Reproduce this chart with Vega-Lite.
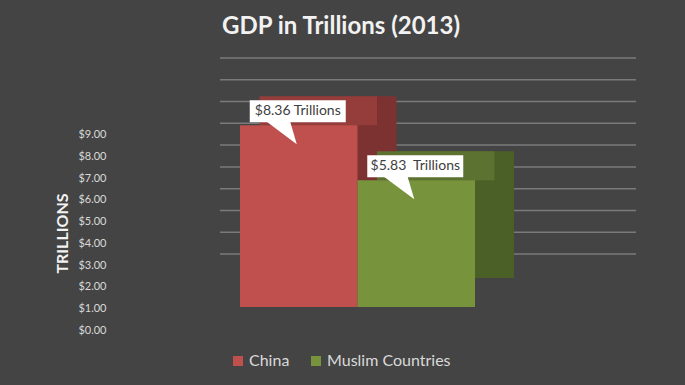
{
  "$schema": "https://vega.github.io/schema/vega-lite/v6.json",
  "width": 416,
  "height": 249,
  "autosize": "none",
  "padding": {"left": 220, "top": 58, "right": 49, "bottom": 78},
  "background": "#444444",
  "title": {
    "text": "GDP in Trillions (2013)",
    "font": "Lato",
    "fontSize": 24,
    "fontWeight": "bold",
    "color": "#f2f2f2",
    "anchor": "middle",
    "dx": -87,
    "offset": 18
  },
  "config": {"view": {"stroke": null}},
  "datasets": {
    "gdp": [
      {"country": "China", "value": 8.36, "label": "$8.36 Trillions"},
      {"country": "Muslim Countries", "value": 5.83, "label": "$5.83\u00a0 Trillions"}
    ],
    "levels": [
      {"level": 0}, {"level": 1}, {"level": 2}, {"level": 3}, {"level": 4},
      {"level": 5}, {"level": 6}, {"level": 7}, {"level": 8}, {"level": 9}
    ]
  },
  "layer": [
    {
      "data": {"name": "levels"},
      "mark": {"type": "rule", "color": "#7a7a7a", "strokeWidth": 1.5},
      "encoding": {
        "y": {
          "field": "level",
          "type": "quantitative",
          "scale": {"domain": [-2.4335, 9], "nice": false, "zero": false},
          "axis": null
        }
      }
    },
    {
      "data": {"name": "gdp"},
      "encoding": {
        "x": {
          "field": "country",
          "type": "nominal",
          "sort": null,
          "scale": {"paddingInner": 0, "paddingOuter": 0.77, "align": 0.1105},
          "axis": null
        },
        "y": {
          "field": "value",
          "type": "quantitative",
          "scale": {"domain": [0, 11.448], "nice": false},
          "axis": {
            "orient": "left",
            "values": [0, 1, 2, 3, 4, 5, 6, 7, 8, 9],
            "format": "$.2f",
            "labelFont": "Lato",
            "labelFontSize": 11,
            "labelColor": "#d9d9d9",
            "labelOffset": 23.5,
            "labelPadding": 0,
            "ticks": false,
            "domain": false,
            "grid": false,
            "offset": 114,
            "title": "TRILLIONS",
            "titleFont": "Lato",
            "titleFontSize": 16,
            "titleFontWeight": "bold",
            "titleColor": "#f2f2f2",
            "titleX": -36,
            "titleY": 175
          }
        }
      },
      "layer": [
        {
          "mark": {"type": "bar", "xOffset": 39, "yOffset": -29, "y2Offset": -29},
          "encoding": {
            "color": {
              "condition": {"test": "datum.country === 'China'", "value": "#7c3230"},
              "value": "#4b6027"
            }
          }
        },
        {
          "mark": {"type": "bar", "xOffset": 19.5, "yOffset": -29, "y2Offset": 0},
          "encoding": {
            "y2": {"field": "value"},
            "color": {
              "condition": {"test": "datum.country === 'China'", "value": "#953d3b"},
              "value": "#5b7230"
            }
          }
        },
        {
          "mark": {"type": "bar"},
          "encoding": {
            "color": {
              "field": "country",
              "type": "nominal",
              "scale": {"domain": ["China", "Muslim Countries"], "range": ["#c0504d", "#77933c"]},
              "legend": {
                "title": null,
                "orient": "none",
                "legendX": 10,
                "legendY": 295,
                "direction": "horizontal",
                "symbolType": "square",
                "symbolSize": 100,
                "symbolStrokeWidth": 0,
                "labelFont": "Lato",
                "labelFontSize": 16,
                "labelColor": "#d9d9d9",
                "labelOffset": 3,
                "columnPadding": 18
              }
            }
          }
        },
        {
          "mark": {"type": "bar", "width": 96, "xOffset": -1, "yOffset": -3, "y2Offset": -25, "color": "#ffffff"},
          "encoding": {"y2": {"field": "value"}}
        },
        {
          "mark": {
            "type": "point",
            "shape": "M -0.85 -0.32 L -0.225 -0.32 L -0.05 0.275 Z",
            "size": 6400,
            "filled": true,
            "color": "#ffffff",
            "opacity": 1,
            "strokeWidth": 0,
            "yOffset": 8
          }
        },
        {
          "mark": {
            "type": "text",
            "font": "Lato",
            "fontSize": 14,
            "color": "#404040",
            "align": "center",
            "baseline": "middle",
            "xOffset": -1,
            "yOffset": -14
          },
          "encoding": {"text": {"field": "label"}}
        }
      ]
    }
  ],
  "resolve": {"scale": {"y": "independent"}}
}
